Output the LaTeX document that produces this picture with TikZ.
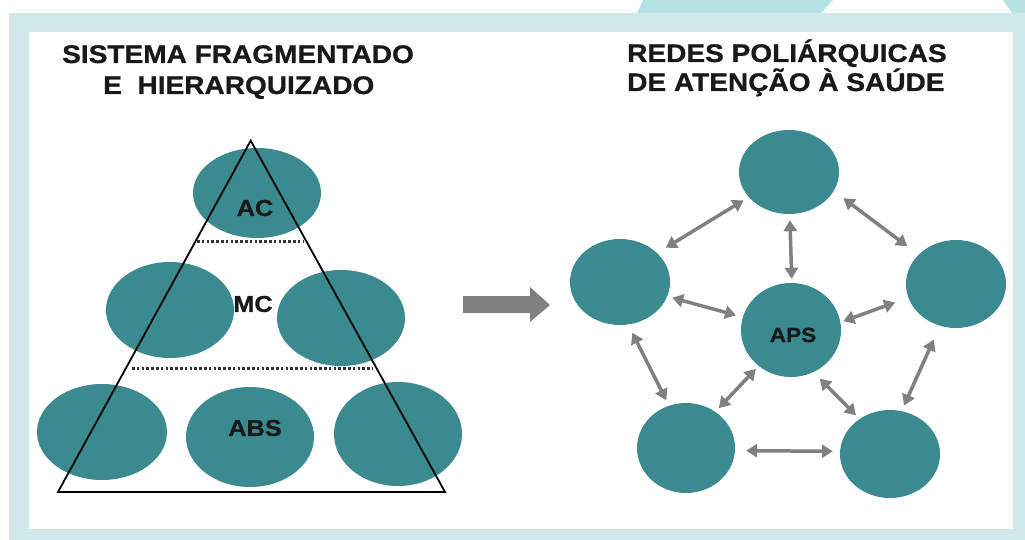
\documentclass[tikz,border=0pt]{standalone}
\usepackage{fontspec}
\setmainfont{Liberation Sans}
\newfontfamily\wide{Liberation Sans}[FakeStretch=1.1, BoldFeatures={FakeBold=0.8}]
\usetikzlibrary{shapes.geometric,arrows.meta}
\definecolor{framec}{HTML}{CFE8EA}
\definecolor{decoc}{HTML}{B3E2E2}
\definecolor{tealc}{HTML}{3B8A90}
\definecolor{grayc}{HTML}{808080}
\begin{document}
\begin{tikzpicture}[x=1pt,y=-1pt,
  blob/.style={ellipse, fill=tealc, draw=none, inner sep=0pt},
  titletext/.style={inner sep=0pt, anchor=base west, text=black!90, font=\wide\bfseries\fontsize{25.5}{28}\selectfont},
  lbl/.style={inner sep=0pt, text=black!90, font=\wide\bfseries\fontsize{#1}{#1}\selectfont},
  link/.style={draw=grayc, line width=3.5pt, {Triangle[length=11pt,width=13pt]}-{Triangle[length=11pt,width=13pt]}},
  dotline/.style={draw=black!80, line width=3pt, dash pattern=on 2.6pt off 2.2pt},
  tri/.style={draw=black, line width=1.8pt, line join=miter}
]
\useasboundingbox (0,0) rectangle (1025,540);
% background
\fill[white] (0,0) rectangle (1025,540);
\fill[decoc] (643,0) -- (833,0) -- (820,14) -- (637,14) -- cycle;
\fill[decoc] (1003,0) -- (1025,0) -- (1025,14) -- (1013,14) -- cycle;
\fill[framec] (9,13) rectangle (1025,540);
\fill[white] (29,32) rectangle (1013,529);

% titles
\node[titletext] (t1a) at (62,63) {SISTEMA FRAGMENTADO};
\node[titletext] (t1b) at (103,94) {E\ \ HIERARQUIZADO};
\node[titletext] (t2a) at (627,62) {REDES POLIÁRQUICAS};
\node[titletext] (t2b) at (627,91) {DE ATENÇÃO À SAÚDE};

% left: hierarchy
\node[blob, minimum width=128pt, minimum height=90pt] (ac) at (257,193) {};
\node[blob, minimum width=128pt, minimum height=96pt] (mcl) at (170,310) {};
\node[blob, minimum width=128pt, minimum height=96pt] (mcr) at (341,318) {};
\node[blob, minimum width=130pt, minimum height=96pt] (bl1) at (102,432) {};
\node[blob, minimum width=128pt, minimum height=100pt] (abs) at (250,437) {};
\node[blob, minimum width=128pt, minimum height=104pt] (br1) at (398,434) {};

\coordinate (apex) at (250.7,140.7);
\coordinate (baseL) at (58,492);
\coordinate (baseR) at (445,492);
\draw[tri] (apex) -- (baseL) -- (baseR) -- cycle;
\draw[dotline] (197,241) -- (303,241);
\draw[dotline] (132,368) -- (373,368);

\node[lbl=23] (acl) at (255,208) {AC};
\node[lbl=23] (mcl2) at (253,304) {MC};
\node[lbl=23] (absl) at (255,428) {ABS};

% big arrow
\fill[grayc] (463,296) -- (530,296) -- (530,287) -- (550,305) -- (530,322) -- (530,313) -- (463,313) -- cycle;

% right: network
\node[blob, minimum width=100pt, minimum height=84pt] (T) at (789,172) {};
\node[blob, minimum width=100pt, minimum height=86pt] (L) at (620,282) {};
\node[blob, minimum width=100pt, minimum height=88pt] (R) at (956,284) {};
\node[blob, minimum width=100pt, minimum height=94pt] (C) at (791,330) {};
\node[blob, minimum width=98pt, minimum height=90pt] (BL) at (686,448) {};
\node[blob, minimum width=100pt, minimum height=88pt] (BR) at (890,454) {};
\node[lbl=20.5] (apsl) at (793,335) {APS};

\draw[link, shorten <=6pt, shorten >=10pt] (T.212) -- (L.38);
\draw[link, shorten <=6pt, shorten >=4pt] (T.-89) -- (C.89);
\draw[link, shorten <=12pt, shorten >=14pt] (T.-23) -- (R.142);
\draw[link, shorten <=5pt, shorten >=7pt] (L.-17) -- (C.165);
\draw[link, shorten <=14pt, shorten >=3pt] (R.196) -- (C.9);
\draw[link, shorten <=9pt, shorten >=6pt] (L.-79) -- (BL.112);
\draw[link, shorten <=4pt, shorten >=5pt] (C.228) -- (BL.51);
\draw[link, shorten <=9pt, shorten >=5pt] (C.-62) -- (BR.131);
\draw[link, shorten <=15pt, shorten >=6pt] (R.249) -- (BR.75);
\draw[link, shorten <=11pt, shorten >=7pt] (BL.-3) -- (BR.177);
\end{tikzpicture}
\end{document}
